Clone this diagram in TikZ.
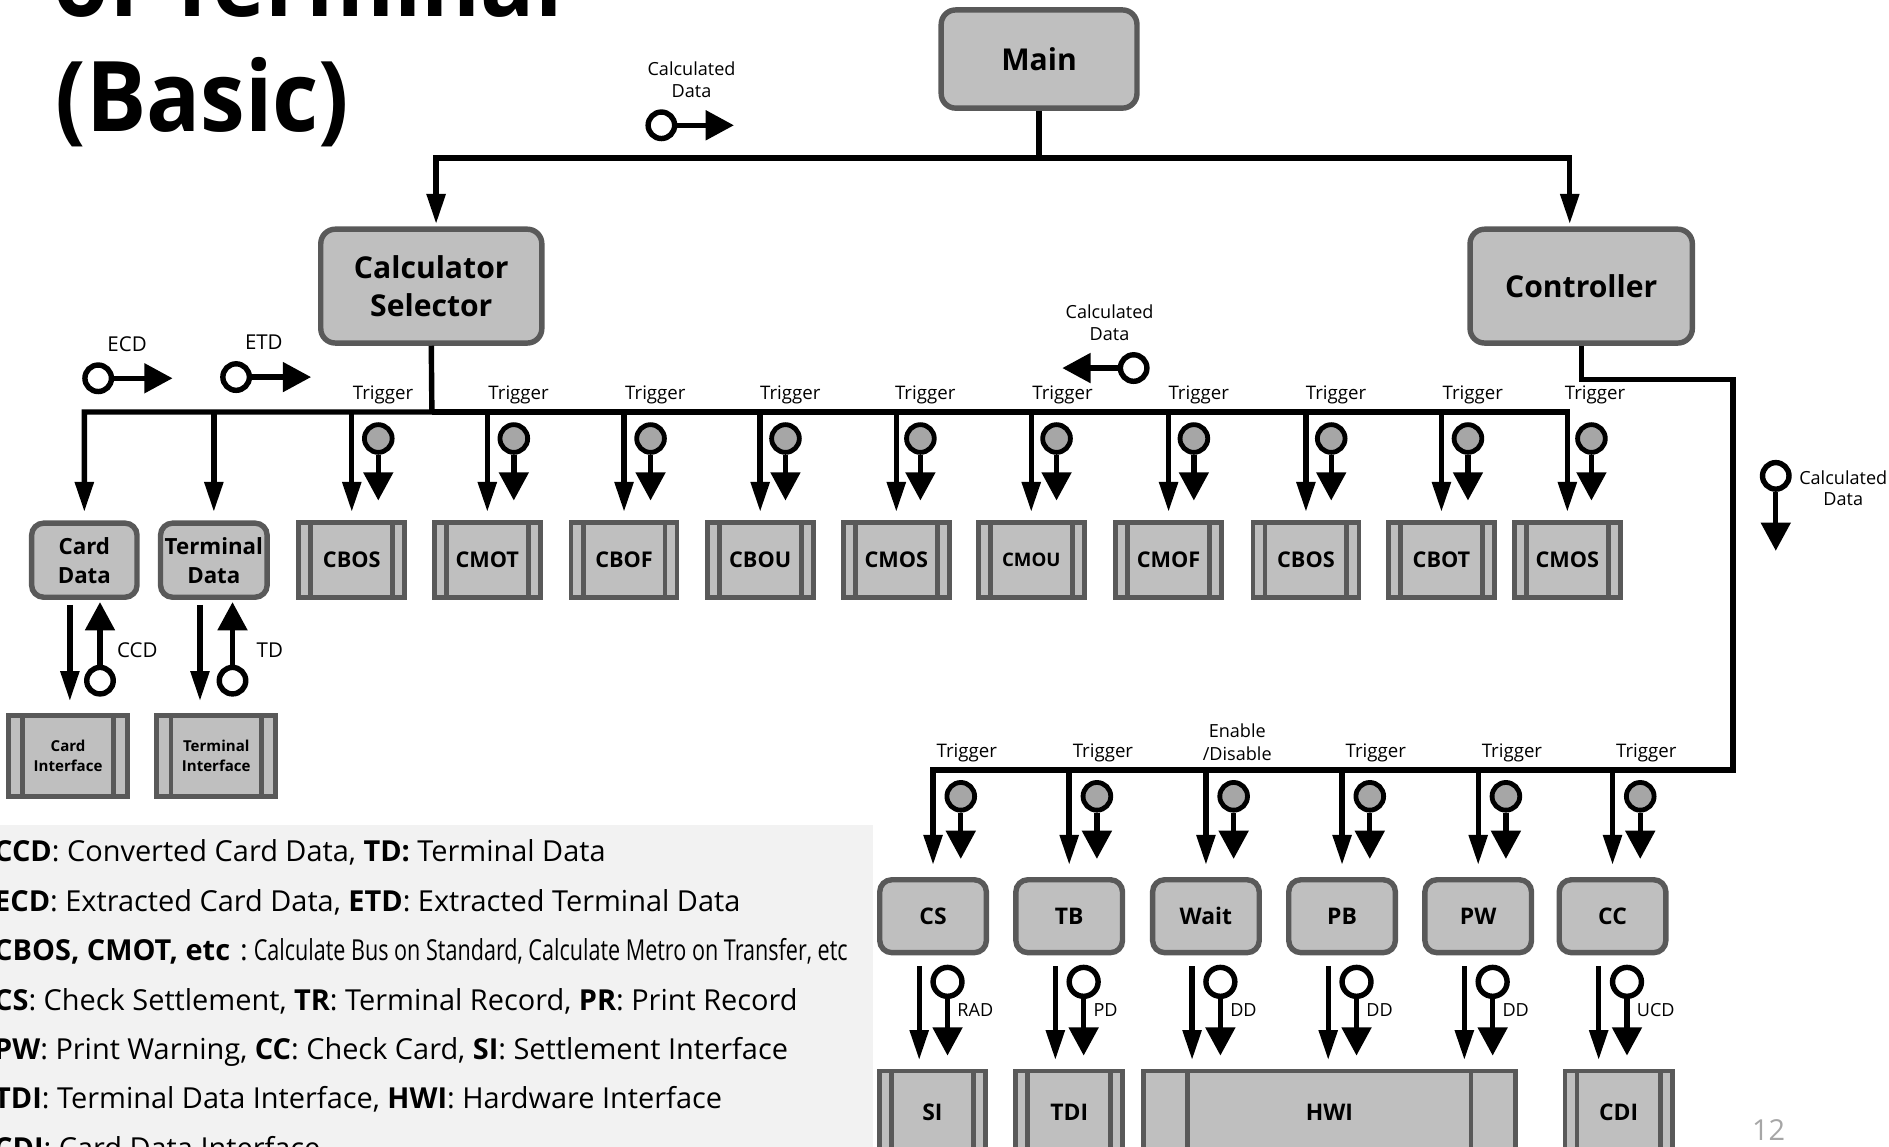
\documentclass[tikz,border=0pt]{standalone}
\usepackage{fontspec}
\setmainfont{Open Sans}
\usepackage{graphicx}
\usetikzlibrary{arrows.meta,shapes.geometric}
\definecolor{bfill}{HTML}{BFBFBF}
\definecolor{bdraw}{HTML}{595959}
\definecolor{tokfill}{HTML}{A6A6A6}
\definecolor{legbg}{HTML}{F2F2F2}
\definecolor{pgnum}{HTML}{A6A6A6}
\tikzset{
  barin/.store in=\pbarin, barin=10pt,
  rbox/.style={draw=bdraw, fill=bfill, line width=4.5pt, rounded corners=12pt, inner sep=0pt, align=center, font=\bfseries\fontsize{25}{32}\selectfont},
  pbox/.style={draw=bdraw, fill=bfill, line width=4pt, inner sep=0pt, align=center, font=\bfseries\fontsize{18}{22}\selectfont,
    path picture={\draw[draw=bdraw, line width=4pt]
      ([xshift=\pbarin]path picture bounding box.north west) -- ([xshift=\pbarin]path picture bounding box.south west)
      ([xshift=-\pbarin]path picture bounding box.north east) -- ([xshift=-\pbarin]path picture bounding box.south east);}},
  gtok/.style={circle, draw=black, fill=tokfill, line width=4pt, minimum size=23pt, inner sep=0pt},
  otok/.style={circle, draw=black, fill=white, line width=4.5pt, minimum size=22pt, inner sep=0pt},
  otoks/.style={otok, minimum size=24pt},
  conn/.style={line width=4.5pt, -{Triangle[length=25pt,width=15pt]}},
  tokarr/.style={line width=4.5pt, -{Triangle[length=23.5pt,width=24pt]}},
  plain/.style={line width=4.5pt},
  lbl/.style={inner sep=0pt, align=center, font=\fontsize{15}{18.5}\selectfont},
  trig/.style={inner sep=0pt, font=\fontsize{15.5}{18}\selectfont},
  abbr/.style={inner sep=0pt, font=\fontsize{17}{20}\selectfont},
  leg/.style={anchor=base west, inner sep=0pt, font=\fontsize{24}{28}\selectfont},
  ttl/.style={anchor=base west, inner sep=0pt, font=\bfseries\fontsize{81}{95}\selectfont},
}
\begin{document}
\begin{tikzpicture}[x=1pt,y=-1pt]
\useasboundingbox (0,0) rectangle (1568,952);
\clip (0,0) rectangle (1568,952);
\fill[legbg] (0,685) rectangle (725,960);
% title
\node[ttl] (ttl1) at (44,14) {\scalebox{0.92}[1]{of Terminal}};
\node[ttl] (ttl2) at (46,109.5) {\scalebox{0.92}[1]{(Basic)}};
% top level
\node[rbox, minimum width=162.5pt, minimum height=81.5pt] (main) at (862.5,49) {Main};
\node[rbox, minimum width=183.5pt, minimum height=94.5pt] (sel) at (358,237.5) {Calculator\\Selector};
\node[rbox, minimum width=184.5pt, minimum height=94.5pt] (ctrl) at (1312.5,237.5) {Controller};
\coordinate (busA) at (862.5,131);
\draw[plain] (main.south) -- (busA);
\draw[conn, shorten >=2pt] (busA) -| ([xshift=4pt]sel.north);
\draw[conn, shorten >=2pt] (busA) -| ([xshift=-9.5pt]ctrl.north);
\node[otok] (tokA) at (549,104) {};
\draw[tokarr] (tokA.east) -- ++(47,0);
\node[lbl] (lblA) at (574,66) {Calculated\\Data};
% card / terminal data
\node[rbox, font=\bfseries\fontsize{18.5}{24}\selectfont, rounded corners=10pt, minimum width=87.5pt, minimum height=61.5pt] (card) at (70,465) {Card\\Data};
\node[rbox, font=\bfseries\fontsize{18.5}{24}\selectfont, rounded corners=10pt, minimum width=88.5pt, minimum height=61.5pt] (term) at (177.5,465) {Terminal\\Data};
\node[otok] (tokecd) at (81.5,314) {};
\draw[tokarr] (tokecd.east) -- ++(48.5,0);
\node[abbr] (ecdl) at (105.5,286) {ECD};
\node[otok] (toketd) at (196,313) {};
\draw[tokarr] (toketd.east) -- ++(49,0);
\node[abbr] (etdl) at (219,284) {ETD};
% calculator boxes
\coordinate (busB) at (358.5,342);
\foreach \nm/\xx/\lab/\fsz/\gx/\tx in {c1/292/CBOS/18/22/26, c2/404.5/CMOT/18/22/26, c3/518/CBOF/18/22/26, c4/631/CBOU/18/21/25, c5/744/CMOS/18/20/24, c6/856/CMOU/15.5/21/26, c7/970/CMOF/18/21/25, c8/1084/CBOS/18/21/25, c9/1196.5/CBOT/18/22/26, c10/1301/CMOS/18/20/23}{
  \node[pbox, font=\bfseries\fontsize{\fsz}{22}\selectfont, minimum width=88pt, minimum height=62pt] (\nm) at (\xx,465) {\lab};
  \node[gtok] (g\nm) at (\xx+\gx,364) {};
  \draw[tokarr] (g\nm.south) -- ++(0,38);
  \node[trig] (tr\nm) at (\xx+\tx,328) {Trigger};
}
\draw[conn, shorten >=7pt] (sel.south) -- (busB) -| (card.north);
\draw[conn, shorten >=7pt] (busB) -| (c10.north);
\foreach \nm in {term,c1,c2,c3,c4,c5,c6,c7,c8,c9}
  \draw[conn, shorten >=7pt] (\nm.north |- busB) -- (\nm.north);
\node[otok] (tokmid) at (941,305.5) {};
\draw[tokarr] (tokmid.west) -- ++(-46,0);
\node[lbl] (lblmid) at (921,268) {Calculated\\Data};
% interfaces left
\node[pbox, font=\bfseries\fontsize{12.5}{16}\selectfont, barin=12pt, minimum width=99pt, minimum height=67pt] (cif) at (56.5,627.5) {Card\\Interface};
\node[pbox, font=\bfseries\fontsize{12.5}{16}\selectfont, barin=12pt, minimum width=99pt, minimum height=67pt] (tif) at (179.5,627.5) {Terminal\\Interface};
\draw[conn, shorten <=4pt, shorten >=10pt] ([xshift=-12pt]card.south) -- ([xshift=-12pt]card.south |- cif.north);
\node[otok] (tokccd) at (83,565) {};
\draw[tokarr] (tokccd.north) -- ++(0,-52);
\node[abbr] (ccdl) at (114,540) {CCD};
\draw[conn, shorten <=4pt, shorten >=10pt] ([xshift=-11.5pt]term.south) -- ([xshift=-11.5pt]term.south |- tif.north);
\node[otok] (toktd) at (193,565) {};
\draw[tokarr] (toktd.north) -- ++(0,-52);
\node[abbr] (tdl) at (224,540) {TD};
% controller side
\coordinate (cc2) at (1438.5,315);
\coordinate (bustwo) at (1438.5,639);
\node[otok] (tokr) at (1474,395) {};
\draw[tokarr] (tokr.south) -- ++(0,49);
\node[lbl, font=\fontsize{15}{17.5}\selectfont] (lblr) at (1530,405.5) {Calculated\\Data};
% bottom interfaces
\node[pbox, font=\bfseries\fontsize{19}{23}\selectfont, minimum width=88pt, minimum height=68pt] (si) at (774,923) {SI};
\node[pbox, font=\bfseries\fontsize{19}{23}\selectfont, minimum width=89pt, minimum height=68pt] (tdi) at (887.5,923) {TDI};
\node[pbox, font=\bfseries\fontsize{19}{23}\selectfont, barin=37pt, minimum width=309pt, minimum height=68pt] (hwi) at (1103.5,923) {HWI};
\node[pbox, font=\bfseries\fontsize{19}{23}\selectfont, minimum width=89pt, minimum height=68pt] (cdi) at (1343.5,923) {CDI};
% controller row
\foreach \nm/\xx/\lab/\tgt/\dl in {cs/774.5/CS/si/RAD, tb/887.5/TB/tdi/PD, wait/1001/Wait/hwi/DD, pb/1114/PB/hwi/DD, pw/1227/PW/hwi/DD, cc/1338.5/CC/cdi/UCD}{
  \node[rbox, font=\bfseries\fontsize{19}{23}\selectfont, rounded corners=10pt, minimum width=88.5pt, minimum height=60.5pt] (\nm) at (\xx,760.5) {\lab};
  \node[gtok] (g\nm) at (\xx+23,661) {};
  \draw[tokarr] (g\nm.south) -- ++(0,38.5);
  \draw[conn, shorten <=9pt, shorten >=7pt] ([xshift=-11.5pt]\nm.south) -- ([xshift=-11.5pt]\nm.south |- \tgt.north);
  \node[otoks] (o\nm) at (\xx+12,815) {};
  \draw[tokarr] (o\nm.south) -- ++(0,47);
  \node[lbl, anchor=west] (d\nm) at (\xx+20,838) {\dl};
}
\draw[conn, shorten >=10pt] (ctrl.south) |- (cc2) -- (bustwo) -| (cs.north);
\foreach \nm in {tb,wait,pb,pw,cc}
  \draw[conn, shorten >=10pt] (\nm.north |- bustwo) -- (\nm.north);
\foreach \nm/\xx in {cs/774.5, tb/887.5, pb/1114, pw/1227, cc/1338.5}
  \node[trig] (tl\nm) at (\xx+28,625) {Trigger};
\node[lbl] (enl) at (1027,616) {Enable\\/Disable};
% page number
\node[inner sep=0pt, text=pgnum, font=\fontsize{24}{28}\selectfont] (pg) at (1468,938) {12};
% legend
\node[leg] (leg1) at (-5,715.5) {\textbf{CCD}: Converted Card Data, \textbf{TD:} Terminal Data};
\node[leg] (leg2) at (-5,756.5) {\textbf{ECD}: Extracted Card Data, \textbf{ETD}: Extracted Terminal Data};
\node[leg] (leg3) at (-5,797.5) {\textbf{CBOS, CMOT, etc}\hspace{2pt} :\hspace{5pt}\resizebox{493pt}{\height}{Calculate Bus on Standard, Calculate Metro on Transfer, etc}};
\node[leg] (leg4) at (-5,838.5) {\textbf{CS}: Check Settlement, \textbf{TR}: Terminal Record, \textbf{PR}: Print Record};
\node[leg] (leg5) at (-5,879.5) {\textbf{PW}: Print Warning, \textbf{CC}: Check Card, \textbf{SI}: Settlement Interface};
\node[leg] (leg6) at (-5,920.5) {\textbf{TDI}: Terminal Data Interface, \textbf{HWI}: Hardware Interface};
\node[leg] (leg7) at (-5,961.5) {\textbf{CDI}: Card Data Interface};
\end{tikzpicture}
\end{document}
